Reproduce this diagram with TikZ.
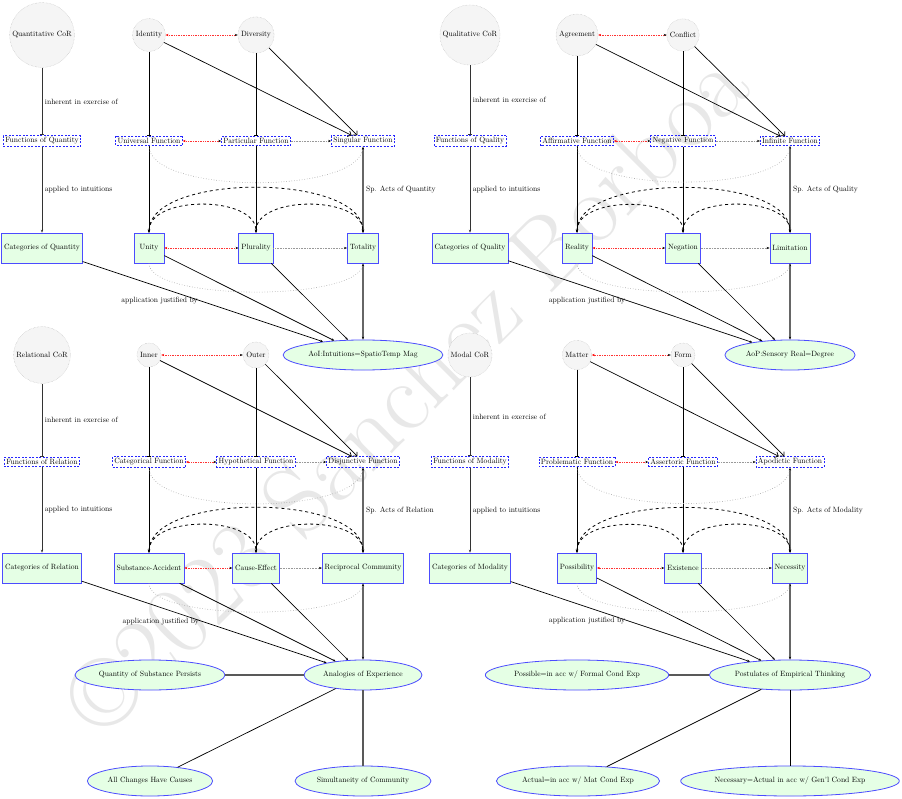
\documentclass[tikz,border=0pt]{standalone}
\usepackage{tikz}
\usetikzlibrary{shapes.geometric,arrows.meta}
\usepackage{xcolor}

\begin{document}
\begin{tikzpicture}[x=1pt, y=1pt,
  every node/.style={scale=0.76},
  ground/.style={circle, draw=gray!60, densely dotted, fill=gray!8, inner sep=3pt},
  func/.style={rectangle, draw=blue!85, dash pattern=on 2pt off 1.5pt, line width=0.8pt, inner sep=2.5pt},
  cat/.style={rectangle, draw=blue!70, fill=green!10, thick, inner sep=3.3pt, minimum width=39.5pt, minimum height=39.5pt},
  apriori/.style={ellipse, draw=blue!70, fill=green!10, thick, inner sep=2.5pt, minimum height=39.5pt},
  inherent/.style={line width=1pt, black!80, -{Bar[width=4pt]}},
  applied/.style={line width=1pt, black!80, -{Stealth[length=3pt]}},
  justified/.style={line width=0.7pt, -{Stealth[length=3pt]}},
  spec/.style={line width=1.3pt, black!60, {Stealth[black,length=3pt]}-{Stealth[black,length=3pt]}},
  descends/.style={line width=0.7pt, -{Bar[width=4pt]}},
  unites/.style={line width=0.7pt, -{Straight Barb[length=3pt]}},
  derives/.style={line width=0.7pt, -{Stealth[length=3pt]}},
  opposed/.style={red!80, densely dotted, line width=0.7pt, {Stealth[red,length=3pt]}-{Stealth[black,length=3pt]}},
  limits/.style={gray!80, densely dotted, line width=0.6pt, -{Stealth[black,length=3pt]}},
  span/.style={gray!75, dotted, line width=0.6pt},
  reciprocal/.style={dashed, line width=0.8pt, {Stealth[length=3pt]}-{Stealth[length=3pt]}},
  bond/.style={line width=2pt, black!65},
  midbond/.style={line width=1.4pt, black!65},
  link/.style={line width=0.7pt}]

\useasboundingbox (0,0) rectangle (902,-799);

% watermark
\node[rotate=45, text=black!9, font=\fontsize{131}{136}\selectfont] (mark) at (405,-392) {\textcopyright2023 Sanchez Borboa};

% quantity
\node[ground] (quantcor) at (42,-35) {Quantitative CoR};
\node[ground] (identity) at (149,-35) {Identity};
\node[ground] (diversity) at (256,-35) {Diversity};
\node[func] (quantfn) at (42,-141) {Functions of Quantity};
\node[func] (universal) at (149,-141) {Universal Function};
\node[func] (particular) at (256,-141) {Particular Function};
\node[func] (singular) at (363,-141) {Singular Function};
\node[cat] (quantcat) at (42,-248) {Categories of Quantity};
\node[cat] (unity) at (149,-248) {Unity};
\node[cat] (plurality) at (256,-248) {Plurality};
\node[cat] (totality) at (363,-248) {Totality};
\node[apriori] (aoi) at (363,-355) {AoI:Intuitions=SpatioTemp Mag};

\draw[inherent] (quantcor) -- node[right, text=black] {inherent in exercise of} (quantfn);
\draw[applied] (quantfn) -- node[right, text=black] {applied to intuitions} (quantcat);
\draw[justified] (quantcat) -- node[pos=0.49, left] {application justified by} (aoi);
\draw[justified] (unity) -- (aoi);
\draw[justified] (plurality) -- (aoi);
\draw[spec] (singular) -- node[right, text=black] {Sp. Acts of Quantity} (totality);
\draw[spec] (totality) -- (aoi);
\draw[descends] (identity) -- (universal);
\draw[descends] (diversity) -- (particular);
\draw[unites] (identity) -- (singular);
\draw[unites] (diversity) -- (singular);
\draw[derives] (universal) -- (unity);
\draw[derives] (particular) -- (plurality);
\draw[opposed] (identity) -- (diversity);
\draw[opposed] (universal) -- (particular);
\draw[opposed] (unity) -- (plurality);
\draw[limits] (particular) -- (singular);
\draw[limits] (plurality) -- (totality);
\draw[span] (universal.south) to[out=-90, in=-90, looseness=0.58] (singular.south);
\draw[span] (unity.south) to[out=-90, in=-90, looseness=0.46] (totality.south);
\draw[reciprocal] (unity.north) to[out=90, in=90, looseness=0.9] (plurality.north);
\draw[reciprocal] (plurality.north) to[out=90, in=90, looseness=0.9] (totality.north);
\draw[reciprocal] (unity.north) to[out=90, in=90, looseness=0.72] (totality.north);

% quality
\node[ground] (qualcor) at (470,-35) {Qualitative CoR};
\node[ground] (agreement) at (577,-35) {Agreement};
\node[ground] (conflict) at (683,-35) {Conflict};
\node[func] (qualfn) at (470,-141) {Functions of Quality};
\node[func] (affirmative) at (577,-141) {Affirmative Function};
\node[func] (negative) at (683,-141) {Negative Function};
\node[func] (infinite) at (790,-141) {Infinite Function};
\node[cat] (qualcat) at (470,-248) {Categories of Quality};
\node[cat] (reality) at (577,-248) {Reality};
\node[cat] (negation) at (683,-248) {Negation};
\node[cat] (limitation) at (790,-248) {Limitation};
\node[apriori] (aop) at (790,-355) {AoP:Sensory Real=Degree};

\draw[inherent] (qualcor) -- node[right, text=black] {inherent in exercise of} (qualfn);
\draw[applied] (qualfn) -- node[right, text=black] {applied to intuitions} (qualcat);
\draw[justified] (qualcat) -- node[pos=0.49, left] {application justified by} (aop);
\draw[justified] (reality) -- (aop);
\draw[justified] (negation) -- (aop);
\draw[spec] (infinite) -- node[right, text=black] {Sp. Acts of Quality} (limitation);
\draw[spec] (limitation) -- (aop);
\draw[descends] (agreement) -- (affirmative);
\draw[descends] (conflict) -- (negative);
\draw[unites] (agreement) -- (infinite);
\draw[unites] (conflict) -- (infinite);
\draw[derives] (affirmative) -- (reality);
\draw[derives] (negative) -- (negation);
\draw[opposed] (agreement) -- (conflict);
\draw[opposed] (affirmative) -- (negative);
\draw[opposed] (reality) -- (negation);
\draw[limits] (negative) -- (infinite);
\draw[limits] (negation) -- (limitation);
\draw[span] (affirmative.south) to[out=-90, in=-90, looseness=0.58] (infinite.south);
\draw[span] (reality.south) to[out=-90, in=-90, looseness=0.46] (limitation.south);
\draw[reciprocal] (reality.north) to[out=90, in=90, looseness=0.9] (negation.north);
\draw[reciprocal] (negation.north) to[out=90, in=90, looseness=0.9] (limitation.north);
\draw[reciprocal] (reality.north) to[out=90, in=90, looseness=0.72] (limitation.north);

% relation
\node[ground] (relcor) at (42,-355) {Relational CoR};
\node[ground] (inner) at (149,-355) {Inner};
\node[ground] (outer) at (256,-355) {Outer};
\node[func] (relfn) at (42,-462) {Functions of Relation};
\node[func] (categorical) at (149,-462) {Categorical Function};
\node[func] (hypothetical) at (256,-462) {Hypothetical Function};
\node[func] (disjunctive) at (363,-462) {Disjunctive Function};
\node[cat] (relcat) at (42,-568) {Categories of Relation};
\node[cat] (substance) at (149,-568) {Substance-Accident};
\node[cat] (cause) at (256,-568) {Cause-Effect};
\node[cat] (community) at (363,-568) {Reciprocal Community};
\node[apriori] (analogies) at (363,-675) {Analogies of Experience};
\node[apriori] (persists) at (150,-675) {Quantity of Substance Persists};
\node[apriori] (changes) at (150,-781) {All Changes Have Causes};
\node[apriori] (simult) at (363,-781) {Simultaneity of Community};

\draw[inherent] (relcor) -- node[right, text=black] {inherent in exercise of} (relfn);
\draw[applied] (relfn) -- node[right, text=black] {applied to intuitions} (relcat);
\draw[justified] (relcat) -- node[pos=0.49, left] {application justified by} (analogies);
\draw[justified] (substance) -- (analogies);
\draw[justified] (cause) -- (analogies);
\draw[spec] (disjunctive) -- node[right, text=black] {Sp. Acts of Relation} (community);
\draw[spec] (community) -- (analogies);
\draw[descends] (inner) -- (categorical);
\draw[descends] (outer) -- (hypothetical);
\draw[unites] (inner) -- (disjunctive);
\draw[unites] (outer) -- (disjunctive);
\draw[derives] (categorical) -- (substance);
\draw[derives] (hypothetical) -- (cause);
\draw[opposed] (inner) -- (outer);
\draw[opposed] (categorical) -- (hypothetical);
\draw[opposed] (substance) -- (cause);
\draw[limits] (hypothetical) -- (disjunctive);
\draw[limits] (cause) -- (community);
\draw[span] (categorical.south) to[out=-90, in=-90, looseness=0.58] (disjunctive.south);
\draw[span] (substance.south) to[out=-90, in=-90, looseness=0.46] (community.south);
\draw[reciprocal] (substance.north) to[out=90, in=90, looseness=0.9] (cause.north);
\draw[reciprocal] (cause.north) to[out=90, in=90, looseness=0.9] (community.north);
\draw[reciprocal] (substance.north) to[out=90, in=90, looseness=0.72] (community.north);
\draw[bond] (persists) -- (analogies);
\draw[link] (analogies) -- (changes);
\draw[midbond] (analogies) -- (simult);

% modality
\node[ground] (modcor) at (470,-355) {Modal CoR};
\node[ground] (matter) at (577,-355) {Matter};
\node[ground] (form) at (683,-355) {Form};
\node[func] (modfn) at (470,-462) {Functions of Modality};
\node[func] (problematic) at (577,-462) {Problematic Function};
\node[func] (assertoric) at (683,-462) {Assertoric Function};
\node[func] (apodictic) at (790,-462) {Apodictic Function};
\node[cat] (modcat) at (470,-568) {Categories of Modality};
\node[cat] (possibility) at (577,-568) {Possibility};
\node[cat] (existence) at (683,-568) {Existence};
\node[cat] (necessity) at (790,-568) {Necessity};
\node[apriori] (postulates) at (790,-675) {Postulates of Empirical Thinking};
\node[apriori] (possible) at (577,-675) {Possible=in acc w/ Formal Cond Exp};
\node[apriori] (actual) at (578,-781) {Actual=in acc w/ Mat Cond Exp};
\node[apriori] (necessary) at (790,-781) {Necessary=Actual in acc w/ Gen'l Cond Exp};

\draw[inherent] (modcor) -- node[right, text=black] {inherent in exercise of} (modfn);
\draw[applied] (modfn) -- node[right, text=black] {applied to intuitions} (modcat);
\draw[justified] (modcat) -- node[pos=0.49, left] {application justified by} (postulates);
\draw[justified] (possibility) -- (postulates);
\draw[justified] (existence) -- (postulates);
\draw[spec] (apodictic) -- node[right, text=black] {Sp. Acts of Modality} (necessity);
\draw[spec] (necessity) -- (postulates);
\draw[descends] (matter) -- (problematic);
\draw[descends] (form) -- (assertoric);
\draw[unites] (matter) -- (apodictic);
\draw[unites] (form) -- (apodictic);
\draw[derives] (problematic) -- (possibility);
\draw[derives] (assertoric) -- (existence);
\draw[opposed] (matter) -- (form);
\draw[opposed] (problematic) -- (assertoric);
\draw[opposed] (possibility) -- (existence);
\draw[limits] (assertoric) -- (apodictic);
\draw[limits] (existence) -- (necessity);
\draw[span] (problematic.south) to[out=-90, in=-90, looseness=0.58] (apodictic.south);
\draw[span] (possibility.south) to[out=-90, in=-90, looseness=0.46] (necessity.south);
\draw[reciprocal] (possibility.north) to[out=90, in=90, looseness=0.9] (existence.north);
\draw[reciprocal] (existence.north) to[out=90, in=90, looseness=0.9] (necessity.north);
\draw[reciprocal] (possibility.north) to[out=90, in=90, looseness=0.72] (necessity.north);
\draw[bond] (possible) -- (postulates);
\draw[link] (postulates) -- (actual);
\draw[link] (postulates) -- (necessary);
\end{tikzpicture}
\end{document}
